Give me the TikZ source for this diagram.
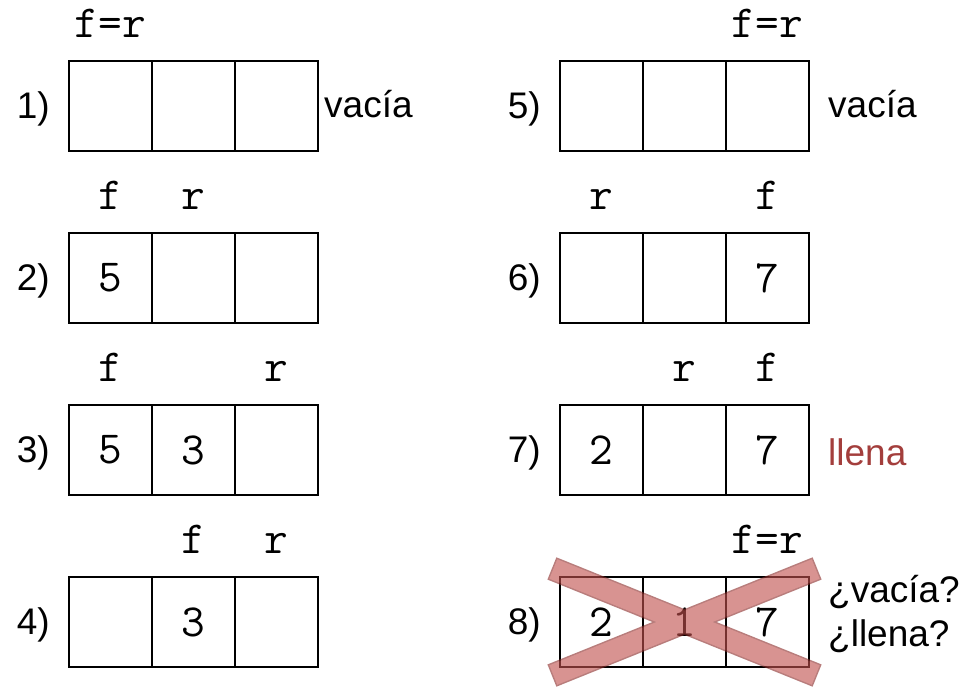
\documentclass[tikz,border=0pt]{standalone}
\usepackage{fontspec}
\setmainfont{Liberation Sans}
\definecolor{xred}{RGB}{192,80,77}
\definecolor{xedge}{RGB}{140,45,43}
\definecolor{llenared}{RGB}{163,62,60}
\begin{document}
\begin{tikzpicture}[x=1pt,y=-1pt,
  cell/.style={draw, line width=2.4pt, minimum width=83pt, minimum height=90pt,
    inner sep=0pt, outer sep=0pt, font=\ttfamily\fontsize{46}{46}\selectfont},
  lab/.style={inner sep=0pt, font=\fontsize{37}{44}\selectfont},
  ptr/.style={inner sep=0pt, font=\ttfamily\fontsize{46}{46}\selectfont},
  bar/.style={rotate=#1, minimum width=283pt, minimum height=21pt, inner sep=0pt}]
\useasboundingbox (0,0) rectangle (974,686);
% boxes
\foreach \n/\x/\y/\a/\b/\c in {1/69/61/{}/{}/{},2/69/233/5/{}/{},3/69/405/5/3/{},4/69/577/{}/3/{},
  5/560/61/{}/{}/{},6/560/233/{}/{}/7,7/560/405/2/{}/7,8/560/577/2/1/7}{
  \node[cell] (b\n-1) at (\x+41.5,\y+45) {\a};
  \node[cell] (b\n-2) at (\x+124.5,\y+45) {\b};
  \node[cell] (b\n-3) at (\x+207.5,\y+45) {\c};
  \node[lab, anchor=east] (n\n) at ([xshift=-19pt,yshift=-3pt]b\n-1.west) {\n)};
}
% pointers
\node[ptr, anchor=base] (p1) at ([yshift=24pt]b1-1.north) {f=r};
\node[ptr, anchor=base] (p2f) at ([yshift=24pt]b2-1.north) {f};
\node[ptr, anchor=base] (p2r) at ([yshift=24pt]b2-2.north) {r};
\node[ptr, anchor=base] (p3f) at ([yshift=24pt]b3-1.north) {f};
\node[ptr, anchor=base] (p3r) at ([yshift=24pt]b3-3.north) {r};
\node[ptr, anchor=base] (p4f) at ([yshift=24pt]b4-2.north) {f};
\node[ptr, anchor=base] (p4r) at ([yshift=24pt]b4-3.north) {r};
\node[ptr, anchor=base] (p5) at ([yshift=24pt]b5-3.north) {f=r};
\node[ptr, anchor=base] (p6r) at ([yshift=24pt]b6-1.north) {r};
\node[ptr, anchor=base] (p6f) at ([yshift=24pt]b6-3.north) {f};
\node[ptr, anchor=base] (p7r) at ([yshift=24pt]b7-2.north) {r};
\node[ptr, anchor=base] (p7f) at ([yshift=24pt]b7-3.north) {f};
\node[ptr, anchor=base] (p8) at ([yshift=24pt]b8-3.north) {f=r};
% side texts
\node[lab, anchor=west] (s1) at ([xshift=6pt,yshift=2pt]b1-3.east) {vacía};
\node[lab, anchor=west] (s5) at ([xshift=19pt,yshift=2pt]b5-3.east) {vacía};
\node[lab, anchor=west, text=llenared] (s7) at ([xshift=19pt,yshift=-2pt]b7-3.east) {llena};
\node[lab, anchor=west, align=left] (s8) at ([xshift=19pt,yshift=8pt]b8-3.east) {¿vacía?\\¿llena?};
% cross
\begin{scope}[transparency group, opacity=0.62]
  \node[bar=-22, draw=xedge, line width=3pt, fill=xred] (x1) at (b8-2.center) {};
  \node[bar=22, draw=xedge, line width=3pt, fill=xred] (x2) at (b8-2.center) {};
  \node[bar=-22, fill=xred] (x1f) at (b8-2.center) {};
  \node[bar=22, fill=xred] (x2f) at (b8-2.center) {};
\end{scope}
\end{tikzpicture}
\end{document}
